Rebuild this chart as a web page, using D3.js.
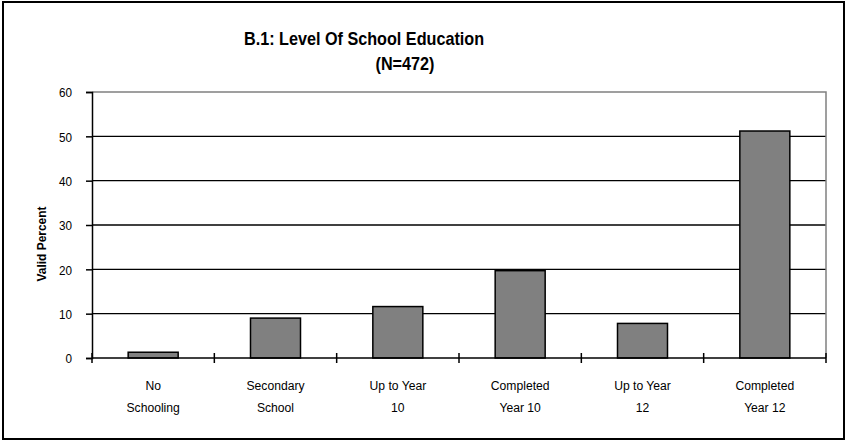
<!DOCTYPE html>
<html>
<head>
<meta charset="utf-8">
<script src="https://cdn.jsdelivr.net/npm/d3@7"></script>
<style>
  html, body { margin: 0; padding: 0; background: #fff; }
  svg text { font-family: "Liberation Sans Narrow", "Arial Narrow", "Liberation Sans", Arial, sans-serif; fill: #000; }
</style>
</head>
<body>
<svg id="chart" width="847" height="441"></svg>
<script>
// Education levels and valid percentages
const categories = [
  ["No", "Schooling"],
  ["Secondary", "School"],
  ["Up to Year", "10"],
  ["Completed", "Year 10"],
  ["Up to Year", "12"],
  ["Completed", "Year 12"]
];
const values = [1.3, 9.0, 11.6, 19.7, 7.8, 51.2];
const yTicks = [0, 10, 20, 30, 40, 50, 60];
const titleLines = ["B.1: Level Of School Education", "(N=472)"];
const yLabel = "Valid Percent";

const svg = d3.select("#chart");
const W = 847, H = 441;
const plot = { left: 92, right: 826, top: 92, bottom: 358 };
const narrow = 0.9; // horizontal squeeze to get a condensed face

// outer frame
svg.append("rect")
  .attr("x", 3).attr("y", 2).attr("width", W - 6).attr("height", H - 4)
  .attr("fill", "none").attr("stroke", "#000").attr("stroke-width", 2);

const keys = categories.map((c, i) => i);
const x = d3.scaleBand().domain(keys).range([plot.left, plot.right]);
const y = d3.scaleLinear().domain([0, 60]).range([plot.bottom, plot.top]);

// horizontal gridlines
svg.append("g").selectAll("line")
  .data(yTicks.filter(t => t > 0 && t < 60))
  .join("line")
  .attr("x1", plot.left).attr("x2", plot.right)
  .attr("y1", d => y(d)).attr("y2", d => y(d))
  .attr("stroke", "#000").attr("stroke-width", 1.4);

// plot area border (top and right)
svg.append("path")
  .attr("d", `M${plot.left},${y(60)}H${plot.right}V${plot.bottom}`)
  .attr("fill", "none").attr("stroke", "#808080").attr("stroke-width", 1.5);

// bars
const barW = 50;
svg.append("g").selectAll("rect")
  .data(values)
  .join("rect")
  .attr("x", (d, i) => x(i) + x.bandwidth() / 2 - barW / 2)
  .attr("width", barW)
  .attr("y", d => y(d))
  .attr("height", d => y(0) - y(d))
  .attr("fill", "#808080")
  .attr("stroke", "#000")
  .attr("stroke-width", 1.5);

// y axis
const yAxis = d3.axisLeft(y).tickValues(yTicks).tickSize(6).tickFormat(d3.format("d"));
const gy = svg.append("g").attr("transform", `translate(${plot.left},0)`).call(yAxis);
gy.select(".domain").attr("stroke", "#000").attr("stroke-width", 1.5);
gy.selectAll(".tick line").attr("stroke", "#000").attr("stroke-width", 1.5);
gy.selectAll(".tick text")
  .attr("font-size", 13)
  .attr("x", null)
  .attr("dy", "0.36em")
  .attr("transform", `translate(-20,0) scale(${narrow},1)`);

// x axis with boundary ticks between categories
svg.append("line")
  .attr("x1", plot.left).attr("x2", plot.right)
  .attr("y1", y(0)).attr("y2", y(0))
  .attr("stroke", "#000").attr("stroke-width", 1.5);
const bounds = keys.map(k => x(k)).concat([x(keys[keys.length - 1]) + x.bandwidth()]);
svg.append("g").selectAll("line")
  .data(bounds)
  .join("line")
  .attr("x1", d => d).attr("x2", d => d)
  .attr("y1", y(0) - 5).attr("y2", y(0) + 5)
  .attr("stroke", "#000").attr("stroke-width", 1.5);

// category labels, two lines each
const lab = svg.append("g").selectAll("g")
  .data(categories)
  .join("g")
  .attr("transform", (d, i) => `translate(${x(i) + x.bandwidth() / 2},0) scale(${narrow},1)`);
lab.selectAll("text")
  .data(d => d)
  .join("text")
  .attr("text-anchor", "middle")
  .attr("font-size", 13.5)
  .attr("x", 0)
  .attr("y", (d, i) => i === 0 ? 390 : 412)
  .text(d => d);

// y axis title
svg.append("text")
  .attr("transform", `translate(46,244) rotate(-90) scale(0.92,1)`)
  .attr("text-anchor", "middle")
  .attr("font-size", 13)
  .attr("font-weight", "bold")
  .text(yLabel);

// chart title
svg.append("text")
  .attr("transform", `translate(364,45) scale(0.9,1)`)
  .attr("text-anchor", "middle")
  .attr("font-size", 18)
  .attr("font-weight", "bold")
  .text(titleLines[0]);
svg.append("text")
  .attr("transform", `translate(405,70) scale(0.9,1)`)
  .attr("text-anchor", "middle")
  .attr("font-size", 18)
  .attr("font-weight", "bold")
  .text(titleLines[1]);
</script>
</body>
</html>
